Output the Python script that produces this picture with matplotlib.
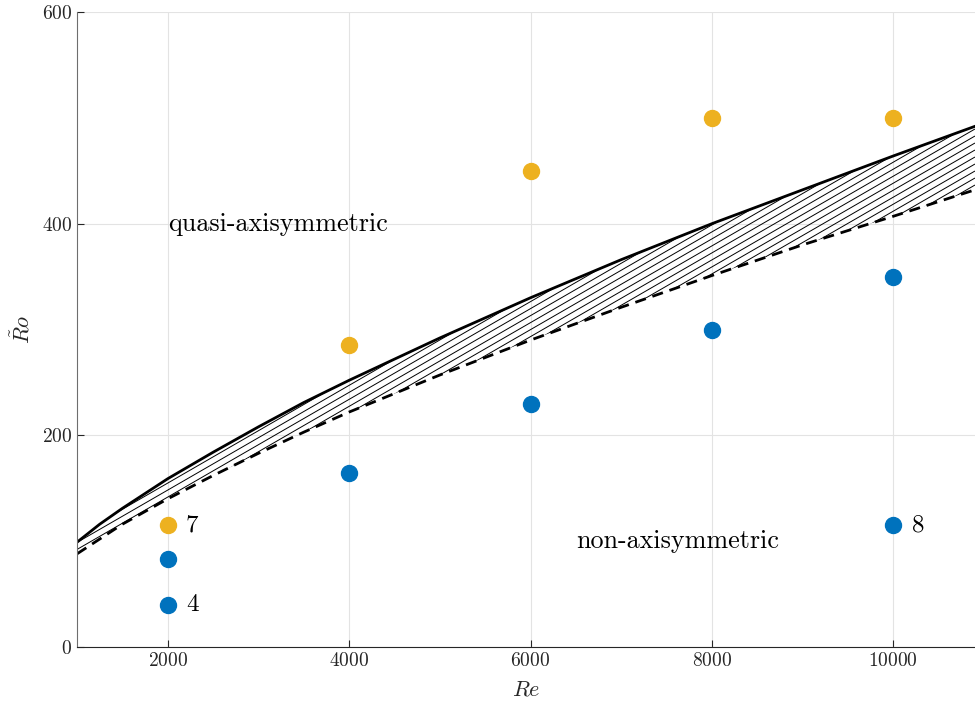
import numpy as np
import matplotlib
matplotlib.use("Agg")
import matplotlib.pyplot as plt
from matplotlib.collections import LineCollection
from matplotlib.patches import Polygon

plt.rcParams["font.family"] = "serif"
plt.rcParams["font.serif"] = ["cmr10"]
plt.rcParams["mathtext.fontset"] = "cm"
plt.rcParams["axes.formatter.use_mathtext"] = True

# transition boundaries (upper: solid, lower: dashed)
reCurve = [1000, 1250, 1500, 1750, 2000, 2500, 3000, 3500, 4000, 5000, 6000, 7000, 8000, 9000, 10000, 10900]
roUpper = [99, 116, 131, 145, 159, 184, 208, 231, 252, 292, 330, 366, 400, 432, 464, 492]
roLower = [88, 102, 116, 128, 140, 162, 183, 203, 222, 257, 290, 321, 351, 380, 407, 432]

# simulations
reYellow = [2000, 4000, 6000, 8000, 10000]
roYellow = [115, 285, 450, 500, 500]
reBlue = [2000, 2000, 4000, 6000, 8000, 10000, 10000]
roBlue = [83, 40, 164, 230, 300, 350, 115]

# numbered runs
labelText = ["7", "4", "8"]
labelRe = [2000, 2000, 10000]
labelRo = [115, 40, 115]

xTicks = [2000, 4000, 6000, 8000, 10000]
yTicks = [0, 200, 400, 600]

fig = plt.figure(figsize=(9.75, 7.06), dpi=100)
ax = fig.add_axes([77/975, 59/706, 898/975, 635/706])
ax.set_xlim(1000, 10900)
ax.set_ylim(0, 600)

ax.set_xticks(xTicks)
ax.set_yticks(yTicks)
ax.grid(True, color="#e3e3e3", linewidth=0.8)
ax.set_axisbelow(True)
ax.tick_params(direction="in", length=5, width=0.8, colors="#262626", labelsize=14)
for side in ["top", "right"]:
    ax.spines[side].set_visible(False)
ax.spines["bottom"].set_color("#262626")
ax.spines["left"].set_color("#6e6e6e")

# hatched band between the two boundaries
band = np.concatenate([np.column_stack([reCurve, roUpper]),
                       np.column_stack([reCurve[::-1], roLower[::-1]])])
bandPatch = Polygon(band, closed=True, facecolor="none", edgecolor="none")
ax.add_patch(bandPatch)

fig.canvas.draw()
bbox = ax.get_window_extent()
angle = np.deg2rad(30)
step = 7.0  # vertical gap between hatch lines, pixels
slope = np.tan(angle)
toData = ax.transData.inverted()
segs = []
c = bbox.y0 - slope * bbox.width
while c < bbox.y1:
    p0 = (bbox.x0, c)
    p1 = (bbox.x1, c + slope * bbox.width)
    segs.append(toData.transform([p0, p1]))
    c += step
hatch = LineCollection(segs, colors="k", linewidths=0.7)
hatch.set_clip_path(bandPatch)
ax.add_collection(hatch)

ax.plot(reCurve, roUpper, color="k", linewidth=2.0)
ax.plot(reCurve, roLower, color="k", linewidth=2.0, linestyle=(0, (4, 2.5)))

ax.plot(reYellow, roYellow, "o", color="#EDB120", markersize=11.5, clip_on=False)
ax.plot(reBlue, roBlue, "o", color="#0072BD", markersize=11.5, clip_on=False)

for t, x, y in zip(labelText, labelRe, labelRo):
    ax.text(x + 200, y, t, fontsize=18, va="center", ha="left")

ax.text(2000, 400, "quasi-axisymmetric", fontsize=18.8, va="center", ha="left")
ax.text(6500, 100, "non-axisymmetric", fontsize=18.8, va="center", ha="left")

ax.set_xlabel(r"$Re$", fontsize=16, color="#262626", labelpad=7)
ax.set_ylabel(r"$\tilde{R}o$", fontsize=16, color="#262626", labelpad=6)

fig.savefig("out.png", dpi=100)
